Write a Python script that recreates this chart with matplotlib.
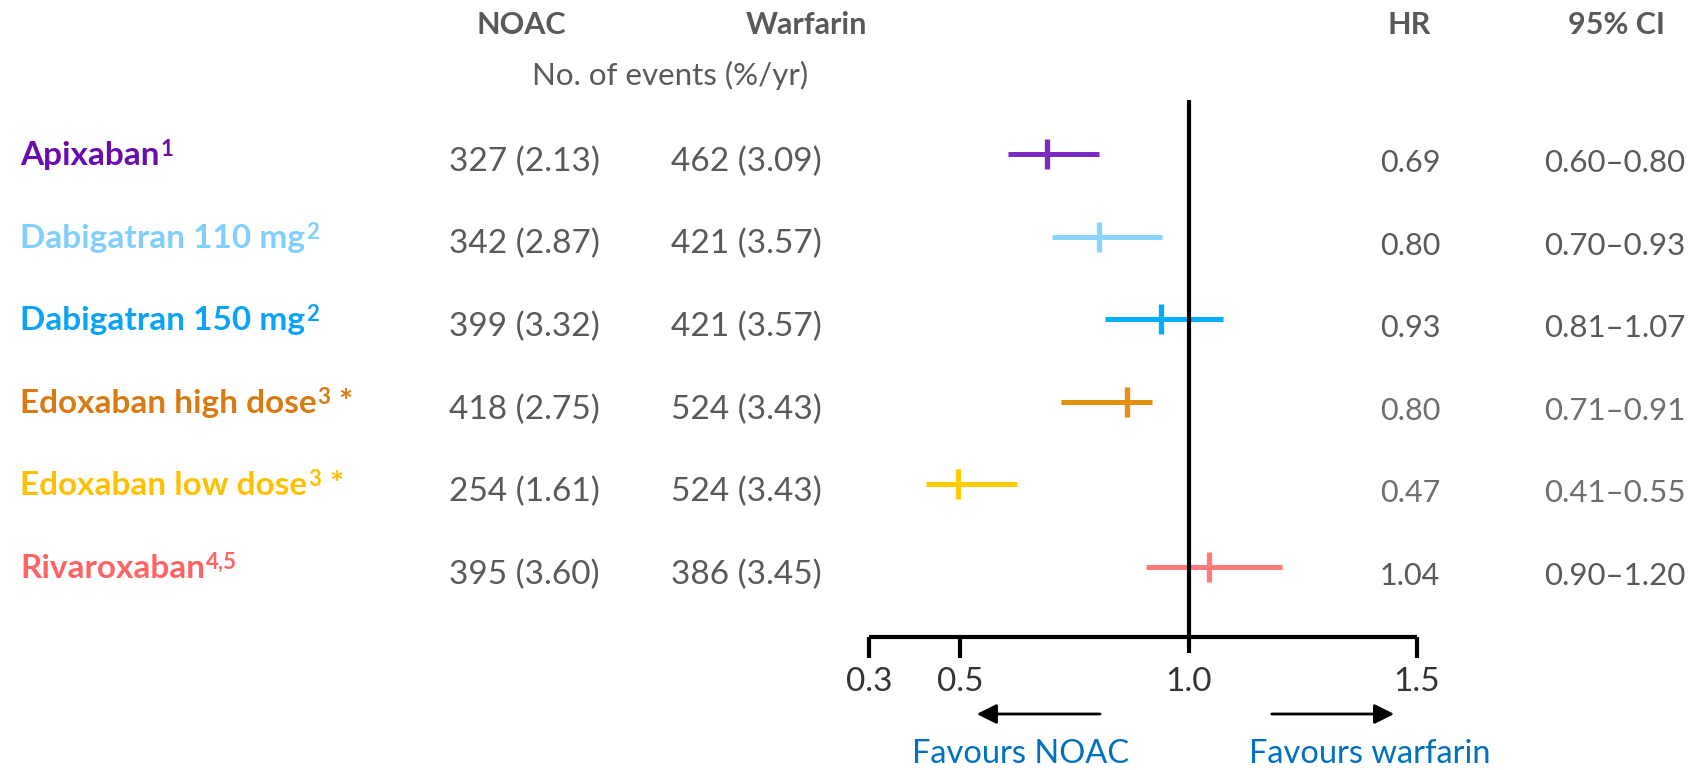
import matplotlib
matplotlib.use('Agg')
import matplotlib.pyplot as plt
from matplotlib.transforms import IdentityTransform

# ---------------- data ----------------
drugs = ['Apixaban', 'Dabigatran 110 mg', 'Dabigatran 150 mg',
         'Edoxaban high dose', 'Edoxaban low dose', 'Rivaroxaban']
refs = ['1', '2', '2', '3', '3', '4,5']
stars = ['', '', '', '*', '*', '']
noac_events = ['327 (2.13)', '342 (2.87)', '399 (3.32)',
               '418 (2.75)', '254 (1.61)', '395 (3.60)']
warf_events = ['462 (3.09)', '421 (3.57)', '421 (3.57)',
               '524 (3.43)', '524 (3.43)', '386 (3.45)']
hr_labels = ['0.69', '0.80', '0.93', '0.80', '0.47', '1.04']
ci_labels = ['0.60\u20130.80', '0.70\u20130.93', '0.81\u20131.07',
             '0.71\u20130.91', '0.41\u20130.55', '0.90\u20131.20']
# positions of the marks as drawn in the picture
hr_point = [0.690, 0.804, 0.939, 0.865, 0.495, 1.044]
ci_low = [0.604, 0.700, 0.817, 0.720, 0.425, 0.907]
ci_high = [0.804, 0.942, 1.075, 0.920, 0.624, 1.204]
x_ticks = [0.3, 0.5, 1.0, 1.5]
x_tick_labels = ['0.3', '0.5', '1.0', '1.5']

label_colors = ['#6A0DAD', '#80CFFF', '#0AA3F5', '#D97B12', '#FFC000', '#FF6464']
line_colors = ['#7B2CBF', '#8AD5FF', '#00AEFF', '#E39010', '#FFCC00', '#FF7B7B']
light_rows = [False, False, False, True, True, False]

# ---------------- layout ----------------
W, H = 1706, 770
GRAY = '#595959'
FONT = 'Lato'
ROW0, ROWSTEP = 154.0, 82.6

fig = plt.figure(figsize=(W / 100, H / 100), dpi=100)
fig.patch.set_facecolor('white')
ax = fig.add_axes([0, 0, 1, 1])
ax.axis('off')
# x: HR scale (0.3 -> px 869, 1.5 -> px 1417); y: row index
px_per_unit = (1417 - 869) / 1.2
ax.set_xlim(0.3 - 869 / px_per_unit, 0.3 + (W - 869) / px_per_unit)
ax.set_ylim((H - ROW0) / ROWSTEP, -ROW0 / ROWSTEP)


def rowy(img_y):
    return (img_y - ROW0) / ROWSTEP


def T(x, y_img, s, **kw):
    kw.setdefault('family', FONT)
    return fig.text(x, H - y_img, s, transform=IdentityTransform(), **kw)


renderer = fig.canvas.get_renderer()

# headers
T(521, 25, 'NOAC', fontsize=22, fontweight='bold', color=GRAY, ha='center', va='center')
T(806, 25, 'Warfarin', fontsize=22, fontweight='bold', color=GRAY, ha='center', va='center')
T(1409, 25, 'HR', fontsize=22, fontweight='bold', color=GRAY, ha='center', va='center')
T(1617, 25, '95% CI', fontsize=22, fontweight='bold', color=GRAY, ha='center', va='center')
T(670, 75, 'No. of events (%/yr)', fontsize=22.5, color=GRAY, ha='center', va='center')

rows = list(range(len(drugs)))
for i in rows:
    ry = ROW0 + ROWSTEP * i
    base = ry + 11
    t = T(20, base, drugs[i], fontsize=24, fontweight='bold',
          color=label_colors[i], va='baseline')
    bb = t.get_window_extent(renderer)
    s = fig.text(bb.x1 + 1, H - (base - 9), refs[i], family=FONT, fontsize=16,
                 fontweight='bold', color=label_colors[i], va='baseline',
                 transform=IdentityTransform())
    if stars[i]:
        bb2 = s.get_window_extent(renderer)
        fig.text(bb2.x1 + 8, H - base, stars[i], family=FONT, fontsize=24,
                 fontweight='bold', color=label_colors[i], va='baseline',
                 transform=IdentityTransform())
    T(524, ry + 17, noac_events[i], fontsize=24, color=GRAY, ha='center', va='baseline')
    T(746, ry + 17, warf_events[i], fontsize=24, color=GRAY, ha='center', va='baseline')
    c = '#6E6E6E' if light_rows[i] else GRAY
    T(1410, ry + 18, hr_labels[i], fontsize=22, color=c, ha='center', va='baseline')
    T(1615, ry + 18, ci_labels[i], fontsize=22.5, color=c, ha='center', va='baseline')

# forest marks
for i in rows:
    ax.hlines(i, ci_low[i], ci_high[i], color=line_colors[i], lw=3.6, zorder=3)
    ax.plot([hr_point[i]], [i], marker='|', ms=21.6, mew=3.8,
            color=line_colors[i], zorder=4, linestyle='none')

# reference line and axis
ax.vlines(1.0, rowy(100), rowy(653), color='black', lw=3.0, zorder=5)
ax.hlines(rowy(637), x_ticks[0], x_ticks[-1], color='black', lw=3.0, zorder=5)
for xt, lab in zip(x_ticks, x_tick_labels):
    if xt != 1.0:
        ax.vlines(xt, rowy(637), rowy(658), color='black', lw=3.0, zorder=5)
    ax.text(xt, rowy(682), lab, family=FONT, fontsize=24, color='#333333',
            ha='center', va='center')

# direction arrows
ax.annotate('', xy=(0.536, rowy(714)), xytext=(0.806, rowy(714)),
            arrowprops=dict(arrowstyle='-|>,head_length=1.2,head_width=0.6',
                            lw=2.0, color='black', shrinkA=0, shrinkB=0))
ax.annotate('', xy=(1.450, rowy(714)), xytext=(1.182, rowy(714)),
            arrowprops=dict(arrowstyle='-|>,head_length=1.2,head_width=0.6',
                            lw=2.0, color='black', shrinkA=0, shrinkB=0))
T(1021, 754, 'Favours NOAC', fontsize=23.5, color='#0070C0', ha='center', va='center')
T(1370, 754, 'Favours warfarin', fontsize=23.5, color='#0070C0', ha='center', va='center')

fig.savefig('out.png', dpi=100, facecolor='white')
